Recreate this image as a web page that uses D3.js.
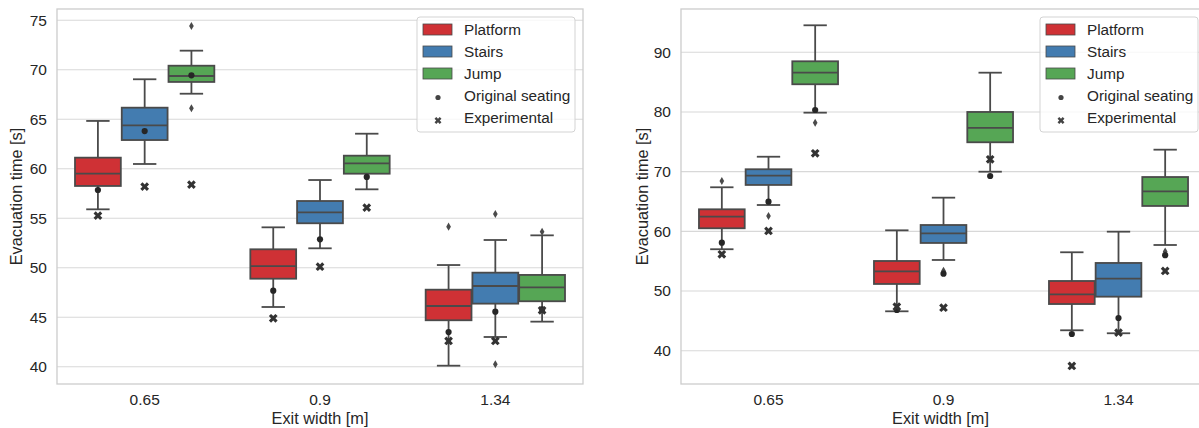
<!DOCTYPE html>
<html>
<head>
<meta charset="utf-8">
<script src="https://cdn.jsdelivr.net/npm/d3@7"></script>
<style>
  body { margin: 0; background: #fff; }
  svg { font-family: "Liberation Sans", Arial, sans-serif; }
</style>
</head>
<body>
<div id="chart-area"></div>
<script>
const WIDTH = 1199;
const HEIGHT = 428;

const widths = ['0.65', '0.9', '1.34'];
const layouts = ['Platform', 'Stairs', 'Jump'];
const colors = ['#cf3135', '#437cb0', '#56a655'];
const EDGE = '#4a4a4a';

// box stats per (width, layout): [low whisker, q1, median, q3, high whisker]
const leftStats = [
  [55.9, 58.26, 59.5, 61.12, 64.83],
  [60.48, 62.9, 64.39, 66.17, 69.04],
  [67.58, 68.77, 69.37, 70.41, 71.93],
  [46.03, 48.89, 50.17, 51.86, 54.08],
  [51.96, 54.49, 55.6, 56.74, 58.86],
  [57.92, 59.5, 60.55, 61.32, 63.54],
  [40.1, 44.69, 46.13, 47.78, 50.27],
  [43.0, 46.37, 48.15, 49.5, 52.8],
  [44.55, 46.61, 48.02, 49.27, 53.27],
];
const leftFliers = [[], [], [74.42, 66.11], [], [], [], [54.15], [55.43, 40.24], [53.64]];
const leftOriginal = [57.85, 63.81, 69.44, 47.68, 52.87, 59.17, 43.5, 45.56, 45.8];
const leftExperimental = [55.26, 58.19, 58.39, 44.89, 50.1, 56.07, 42.6, 42.6, 45.7];
const leftTicks = [40, 45, 50, 55, 60, 65, 70, 75];

const rightStats = [
  [57.0, 60.51, 62.45, 63.69, 67.38],
  [64.41, 67.77, 69.32, 70.4, 72.5],
  [79.88, 84.64, 86.58, 88.49, 94.52],
  [46.6, 51.18, 53.3, 55.03, 60.17],
  [55.2, 58.05, 59.67, 61.06, 65.64],
  [69.99, 74.92, 77.32, 80.0, 86.58],
  [43.42, 47.82, 49.45, 51.68, 56.49],
  [42.92, 49.05, 52.07, 54.7, 59.94],
  [57.71, 64.25, 66.71, 69.1, 73.68],
];
const rightFliers = [[68.43], [62.57], [78.2], [], [53.4], [], [], [], [56.6]];
const rightOriginal = [58.1, 64.97, 80.33, 46.82, 52.9, 69.27, 42.8, 45.48, 56.0];
const rightExperimental = [56.15, 60.06, 73.08, 47.37, 47.2, 72.07, 37.44, 43.02, 53.36];
const rightTicks = [40, 50, 60, 70, 80, 90];

main();

function main() {
  const svg = d3.select('#chart-area').append('svg')
    .attr('width', WIDTH)
    .attr('height', HEIGHT);
  drawPanel(svg, {
    left: 57, right: 583, top: 9, bottom: 384,
    domain: [38.25, 76.14], ticks: leftTicks, labelX: 16,
    stats: leftStats, fliers: leftFliers,
    original: leftOriginal, experimental: leftExperimental,
  });
  drawPanel(svg, {
    left: 681, right: 1206, top: 9, bottom: 384,
    domain: [34.42, 97.25], ticks: rightTicks, labelX: 642,
    stats: rightStats, fliers: rightFliers,
    original: rightOriginal, experimental: rightExperimental,
  });
}

function drawPanel(svg, p) {
  const scaleX = d3.scaleBand().domain(widths).range([p.left, p.right]);
  const scaleHue = d3.scaleBand().domain(layouts)
    .range([scaleX.bandwidth() * 0.1, scaleX.bandwidth() * 0.9]);
  const scaleY = d3.scaleLinear().domain(p.domain).range([p.bottom, p.top]);
  const g = svg.append('g');

  // grid
  g.append('g').selectAll('line').data(p.ticks).enter().append('line')
    .attr('x1', p.left).attr('x2', p.right)
    .attr('y1', d => scaleY(d)).attr('y2', d => scaleY(d))
    .attr('stroke', '#d8d8d8').attr('stroke-width', 1.1);

  // frame
  g.append('rect')
    .attr('x', p.left).attr('y', p.top)
    .attr('width', p.right - p.left).attr('height', p.bottom - p.top)
    .attr('fill', 'none').attr('stroke', '#cccccc').attr('stroke-width', 1.3);

  // y axis
  const axisY = d3.axisLeft(scaleY).tickValues(p.ticks).tickSize(0).tickPadding(10);
  const ay = g.append('g').attr('transform', `translate(${ p.left }, 0)`).call(axisY);
  ay.select('.domain').remove();
  ay.selectAll('text').attr('font-size', 15.5).attr('fill', '#262626')
    .attr('font-family', '"Liberation Sans", Arial, sans-serif');

  // x axis
  const axisX = d3.axisBottom(scaleX).tickSize(0).tickPadding(10);
  const ax = g.append('g').attr('transform', `translate(0, ${ p.bottom })`).call(axisX);
  ax.select('.domain').remove();
  ax.selectAll('text').attr('font-size', 15.5).attr('fill', '#262626')
    .attr('font-family', '"Liberation Sans", Arial, sans-serif');

  g.append('text')
    .attr('x', (p.left + p.right) / 2 - (p.right > WIDTH ? 3 : 0))
    .attr('y', 424)
    .attr('text-anchor', 'middle')
    .attr('font-size', 16.3)
    .attr('fill', '#262626')
    .text('Exit width [m]');

  g.append('text')
    .attr('transform', `translate(${ p.labelX + 6 }, ${ (p.top + p.bottom) / 2 }) rotate(-90)`)
    .attr('text-anchor', 'middle')
    .attr('font-size', 16.3)
    .attr('fill', '#262626')
    .text('Evacuation time [s]');

  // boxes
  const items = [];
  widths.forEach((w, i) => layouts.forEach((l, j) => {
    const k = i * 3 + j;
    items.push({
      width: w, layout: l, color: colors[j], stats: p.stats[k],
      fliers: p.fliers[k], original: p.original[k], experimental: p.experimental[k],
    });
  }));

  const bw = scaleHue.bandwidth();
  const boxes = g.append('g').selectAll('g').data(items).enter().append('g')
    .attr('transform', d => `translate(${ scaleX(d.width) + scaleHue(d.layout) + bw / 2 }, 0)`);

  boxes.append('line')
    .attr('x1', 0).attr('x2', 0)
    .attr('y1', d => scaleY(d.stats[0])).attr('y2', d => scaleY(d.stats[1]))
    .attr('stroke', EDGE).attr('stroke-width', 1.8);
  boxes.append('line')
    .attr('x1', 0).attr('x2', 0)
    .attr('y1', d => scaleY(d.stats[3])).attr('y2', d => scaleY(d.stats[4]))
    .attr('stroke', EDGE).attr('stroke-width', 1.8);
  [0, 4].forEach(s => {
    boxes.append('line')
      .attr('x1', -bw / 4).attr('x2', bw / 4)
      .attr('y1', d => scaleY(d.stats[s])).attr('y2', d => scaleY(d.stats[s]))
      .attr('stroke', EDGE).attr('stroke-width', 1.8);
  });
  boxes.append('rect')
    .attr('x', -bw * 0.49).attr('width', bw * 0.98)
    .attr('y', d => scaleY(d.stats[3]))
    .attr('height', d => scaleY(d.stats[1]) - scaleY(d.stats[3]))
    .attr('fill', d => d.color)
    .attr('stroke', EDGE).attr('stroke-width', 1.8);
  boxes.append('line')
    .attr('x1', -bw * 0.49).attr('x2', bw * 0.49)
    .attr('y1', d => scaleY(d.stats[2])).attr('y2', d => scaleY(d.stats[2]))
    .attr('stroke', EDGE).attr('stroke-width', 1.8);

  // fliers
  const diamond = d3.symbol(d3.symbolDiamond, 19);
  boxes.selectAll('.flier').data(d => d.fliers).enter().append('path')
    .attr('class', 'flier')
    .attr('d', diamond)
    .attr('transform', d => `translate(0, ${ scaleY(d) })`)
    .attr('fill', EDGE);

  // markers
  boxes.append('circle')
    .attr('cx', 0).attr('cy', d => scaleY(d.original))
    .attr('r', 3.1)
    .attr('fill', '#262626');
  const cross = d3.symbol(d3.symbolCross, 48);
  boxes.append('path')
    .attr('d', cross)
    .attr('transform', d => `translate(0, ${ scaleY(d.experimental) }) rotate(45)`)
    .attr('fill', '#333');

  drawLegend(g, p.right - 8, p.top + 8);
}

function drawLegend(g, right, top) {
  const w = 158;
  const lg = g.append('g').attr('transform', `translate(${ right - w }, ${ top })`);
  lg.append('rect')
    .attr('width', w).attr('height', 115)
    .attr('rx', 3)
    .attr('fill', 'rgba(255,255,255,0.8)')
    .attr('stroke', '#d3d3d3');
  const rows = layouts.concat(['Original seating', 'Experimental']);
  const row = lg.selectAll('.row').data(rows).enter().append('g')
    .attr('transform', (d, i) => `translate(0, ${ 12.5 + i * 22 })`);
  row.filter((d, i) => i < 3).append('rect')
    .attr('x', 6).attr('y', -5.5).attr('width', 29).attr('height', 11)
    .attr('fill', (d, i) => colors[i])
    .attr('stroke', EDGE).attr('stroke-width', 0.8);
  row.filter((d, i) => i === 3).append('circle')
    .attr('cx', 21).attr('cy', 2).attr('r', 2.6).attr('fill', '#444');
  row.filter((d, i) => i === 4).append('path')
    .attr('d', d3.symbol(d3.symbolCross, 30))
    .attr('transform', 'translate(21, 3) rotate(45)')
    .attr('fill', '#444');
  row.append('text')
    .attr('x', 47).attr('y', 5)
    .attr('font-size', 15.3)
    .attr('fill', '#262626')
    .text(d => d);
}
</script>
</body>
</html>
